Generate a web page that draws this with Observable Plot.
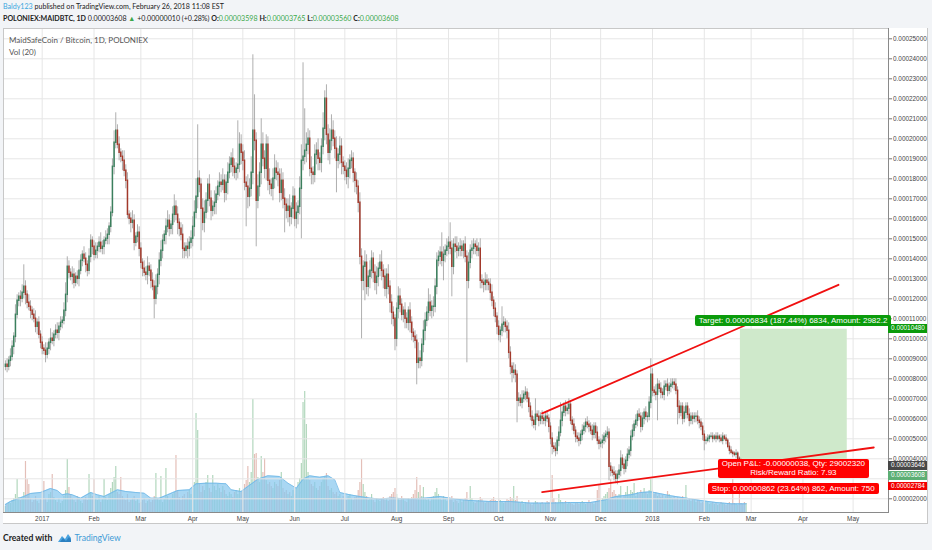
<!DOCTYPE html>
<html><head><meta charset="utf-8">
<script src="https://cdn.jsdelivr.net/npm/d3@7"></script>
<script src="https://cdn.jsdelivr.net/npm/@observablehq/plot@0.6"></script>
<style>
body{margin:0;width:932px;height:550px;background:#f2f4f7;position:relative;overflow:hidden;font-family:Lato,"Liberation Sans",sans-serif;}
.hdr{position:absolute;left:3px;white-space:nowrap;font-size:7.1px;color:#222;}
#h1{top:2px;} #h2{top:14px;}
#h1 .user{color:#3aa6de;}
#h2 b{font-weight:700;} #h2 .g{color:#3aa84a;}
#panel{position:absolute;left:3px;top:28px;width:925px;height:496px;background:#fff;overflow:hidden;}
#panel svg{position:absolute;left:0;}
#outer{position:absolute;left:3px;top:28px;width:924px;height:495px;border-right:1px solid #c8c8c8;border-bottom:1px solid #c8c8c8;pointer-events:none;}
.ttl{position:absolute;left:6px;font-size:8px;color:#555;white-space:nowrap;}
.lbl{position:absolute;color:#fff;font-family:"Liberation Sans",Arial,sans-serif;font-size:8px;white-space:nowrap;text-align:center;border-radius:2px;padding:0 4px;line-height:11px;}
.tag{position:absolute;left:885px;width:40px;height:8.6px;line-height:8.6px;color:#fff;font-family:"Liberation Sans",Arial,sans-serif;font-size:6.4px;text-align:center;}
#foot{position:absolute;left:3px;top:533px;font-size:8.6px;white-space:nowrap;color:#222;}
#foot b{font-weight:700;} #foot .tv{color:#3d9ad6;}
</style></head><body>
<div class="hdr" id="h1"><span class="user">Baldy123</span> published on TradingView.com, February 26, 2018 11:08 EST</div>
<div class="hdr" id="h2"><b>POLONIEX:MAIDBTC, 1D</b> 0.00003608 <span class="g">▲</span> +0.00000010 (+0.28%) <b>O:</b><span class="g">0.00003598</span> <b>H:</b><span class="g">0.00003765</span> <b>L:</b><span class="g">0.00003560</span> <b>C:</b><span class="g">0.00003608</span></div>
<div id="panel"></div>
<div id="outer"></div>
<div id="foot"><b>Created with</b> <svg width="13" height="9" viewBox="0 0 13 9" style="vertical-align:-1px;margin:0 2px 0 3px"><path d="M0 9 L4 3 L7 6 L10 1 L13 5 L13 9 Z" fill="#4aa3df"/><path d="M2 9 L5 5 L8 8 L11 4 L13 7 L13 9Z" fill="#2b7fc0"/></svg> <span class="tv">TradingView</span></div>
<script>
// Prices in micro-BTC (1e-6 BTC); first candle 2016-12-10, one per day to 2018-02-26
const firstDate = "2016-12-10";
const firstOpen = 86;
const close = [
 87,86,89,91,96,101,112,119,121,120,123,126,122,118,116,114,112,110,106,108,102,98,
 95,94,92,95,98,100,99,102,104,103,106,108,109,114,122,136,133,131,132,128,131,130,134,139,142,140,137,134,141,149,146,
 142,144,146,148,145,146,149,150,152,156,163,186,198,204,197,193,191,189,184,179,162,160,158,159,148,151,153,145,
 138,135,133,132,136,134,129,126,120,126,132,139,144,149,152,156,159,155,157,162,166,162,158,155,152,145,144,146,145,148,150,
 156,163,171,180,177,165,158,163,169,177,170,164,166,168,172,176,178,177,179,173,178,183,187,190,186,183,185,187,197,193,
 189,178,176,171,175,183,204,199,169,176,183,197,190,185,197,179,177,175,180,185,183,182,173,179,170,167,164,166,161,165,171,
 160,163,166,175,189,191,194,197,200,185,183,182,192,194,190,188,196,205,220,202,193,199,204,200,195,189,192,196,188,186,
 184,181,185,189,190,183,179,176,168,141,129,136,138,126,131,134,140,133,128,131,135,138,134,131,125,132,126,118,113,110,100,
 115,121,117,112,114,110,108,114,108,103,101,99,88,90,89,97,104,109,113,118,114,116,116,126,139,141,143,139,142,144,146,
 148,145,136,147,146,144,145,146,144,147,141,129,138,144,145,147,146,144,145,129,128,127,129,128,127,123,119,115,111,106,
 102,104,107,108,106,104,93,86,83,84,82,69,70,68,70,72,73,70,66,61,59,57,62,61,59,61,60,59,61,60,56,
 50,46,45,44,49,53,59,63,66,64,65,67,59,57,54,51,50,49,52,54,56,58,57,56,54,52,56,53,49,47.5,
 48,49,51,52,53,36,34,33,32,30,32,34,40,37,35,39,42,44,51,54,57,59,62,61,56,60,63,61,61,68,82,
 74,73,72,77,75,73,72,76,77,74,76,77,78,77,74,66,63,66,60,63,66,62,59,61,60,61,61,59,58,56,52,
 49,49,50,51,51,50,51,50,51,50,49,51,50,49,46,44,43,42.5,42,42.5,40,39,37,36.5,35.98,36.08
];
const upperWick = [
 2,3,2,4,3,2,5,3,2,3,4,11,3,2,4,3,2,3,4,2,3,2,
 3,2,4,3,2,5,3,2,3,4,2,3,2,4,6,5,3,2,4,3,2,3,5,3,2,4,3,2,4,3,2,
 3,4,2,3,5,3,2,4,3,2,3,4,6,9,3,4,2,3,5,3,4,2,3,5,3,2,4,3,
 3,2,4,3,5,2,3,4,3,6,3,4,5,3,2,4,5,3,2,4,6,3,4,2,3,5,3,2,4,3,4,
 5,6,9,27,4,3,5,6,4,3,5,4,3,6,4,3,5,4,6,3,4,5,4,3,5,4,3,22,6,5,
 4,5,3,6,5,8,38,18,4,6,5,13,6,4,5,4,6,3,5,7,4,5,3,6,4,5,3,4,6,3,5,
 4,5,3,6,8,47,21,6,5,4,6,3,5,4,6,3,4,8,4,7,5,6,8,5,4,6,3,5,4,3,
 3,4,5,3,4,3,2,4,3,5,4,3,6,4,3,5,4,3,4,5,3,4,6,3,4,3,5,3,4,3,2,
 3,5,4,3,2,4,3,2,4,3,2,3,3,8,4,3,5,4,3,7,4,3,5,4,4,3,3,10,4,3,4,
 3,10,4,3,4,5,3,4,3,2,4,3,5,3,4,3,2,4,3,5,3,2,4,3,2,3,4,2,3,2,
 3,2,9,3,2,3,4,3,2,4,3,2,3,2,4,2,3,2,3,2,3,2,8,2,3,2,3,2,2,3,2,
 2,3,2,3,2,3,9,3,2,3,3,3,2,2,3,2,2,3,2,3,2,2,3,2,2,3,2,2,3,2,
 2,3,2,2,3,2,2,2,3,2,2,3,4,2,3,2,3,2,3,3,2,3,2,3,2,3,2,3,2,3,8,
 3,2,4,3,2,3,2,3,2,3,2,3,2,2,3,2,3,2,2,3,2,2,3,2,2,2,2,3,2,2,2,
 2,2,2,1,2,2,1,2,2,1,2,2,1,2,1,2,2,1,1,2,1,1,1,1,1,1.57
];
const lowerWick = [
 2,3,2,3,2,4,3,2,3,4,2,3,5,3,2,4,3,2,3,4,2,3,
 3,2,4,2,3,4,2,3,2,3,4,2,3,2,3,4,3,2,4,3,2,3,4,2,3,2,4,3,2,3,4,
 3,2,4,3,2,3,4,2,3,5,3,2,4,3,2,4,3,5,3,4,2,3,5,3,4,2,3,4,
 3,4,2,3,5,3,4,2,10,3,4,5,3,4,2,5,3,4,3,5,4,3,6,4,3,5,4,3,5,4,3,
 4,5,3,6,4,21,4,5,3,6,4,5,3,4,6,3,5,4,3,5,4,6,3,4,5,3,4,5,4,6,
 5,4,20,6,5,4,6,5,23,4,5,6,4,5,6,5,5,4,6,5,4,6,5,4,5,14,4,6,5,4,5,
 4,5,6,4,25,5,4,6,5,4,6,5,4,5,6,4,5,4,6,5,4,6,5,4,5,16,4,5,6,4,
 5,4,6,5,4,5,6,4,5,4,29,5,17,4,5,6,4,5,4,6,5,4,5,6,4,5,4,5,6,4,6,
 4,5,4,3,4,5,3,4,5,4,3,4,11,3,4,3,4,5,3,4,3,4,5,3,4,3,4,3,10,4,3,
 4,3,15,4,3,4,3,4,3,4,3,41,4,3,4,3,4,3,3,4,3,4,3,4,3,4,3,4,3,4,
 3,4,3,4,3,4,3,4,5,3,4,11,3,2,3,2,3,2,3,2,3,2,3,2,3,2,3,2,3,2,3,
 3,4,2,3,2,3,2,3,2,3,2,3,2,3,2,3,2,3,2,3,2,3,2,3,2,3,2,3,2,3,
 2,3,2,3,2,7,3,2,3,2.5,3,2,3,2,3,2,3,2,3,2,3,2,3,2,3,2,3,2,3,2,3,
 3,2,3,13,2,3,2,3,2,3,2,3,2,3,2,9,3,2,3,2,3,2,3,2,3,2,3,2,3,2,3,
 5,2,1,2,1,2,1,2,1,2,1,2,1,2,1,2,1,2,1,2,1,1,1,1,0.5,0.38
];
// daily volume (arbitrary units)
const volume = [
 6,8,10,9,12,14,18,33,15,12,14,20,51,33,28,14,10,12,16,11,9,13,
 12,31,14,10,18,20,38,15,12,10,14,9,11,16,22,53,25,18,14,12,10,16,14,11,9,13,15,12,38,20,16,
 33,14,12,16,10,13,33,15,12,18,24,30,35,46,20,18,35,16,14,12,18,10,12,14,16,11,13,9,
 10,12,14,9,11,13,10,12,16,39,14,12,36,10,13,44,16,12,14,18,20,57,22,15,12,16,18,14,20,22,18,
 24,30,99,82,28,20,26,22,30,37,24,20,37,26,22,28,24,20,26,22,18,16,20,18,15,20,22,18,24,20,
 22,28,32,46,30,40,113,58,59,35,30,56,40,54,32,28,30,26,24,30,28,26,32,40,24,20,22,18,20,16,22,
 18,24,30,34,49,110,121,88,40,32,28,26,30,24,22,26,30,34,36,39,26,22,24,20,18,20,16,18,14,16,
 14,12,16,18,14,12,15,16,22,30,53,28,20,16,12,14,18,12,10,14,12,11,13,15,12,14,11,16,18,20,24,
 18,14,12,16,13,11,10,14,12,15,18,22,35,20,27,16,25,14,12,13,11,15,16,20,24,18,14,12,16,13,11,
 12,14,16,10,12,11,9,13,10,12,14,20,12,26,14,10,9,11,12,15,13,10,9,11,10,12,13,15,12,11,
 14,12,10,9,11,13,12,15,14,26,12,16,10,9,11,8,10,9,12,8,7,9,11,10,8,9,10,8,9,11,10,
 12,37,14,10,9,18,12,10,9,11,8,10,9,8,7,9,10,8,9,11,10,8,9,12,10,9,8,11,22,28,
 12,14,16,18,20,24,33,20,22,18,16,18,26,14,16,20,26,18,22,20,29,16,20,18,22,19,24,20,18,22,33,
 22,18,20,16,18,15,17,14,16,21,18,15,14,16,13,15,12,14,16,13,27,12,14,11,13,12,10,12,11,9,10,
 9,11,10,8,9,10,8,9,7,8,10,9,8,7,9,10,8,33,9,8,7,18,9,8,10,9
];
// Vol (20) moving average: day index from firstDate, value
const maDay = [0,3,11,15,21,27,31,34,37,40,45,51,55,59,63,67,72,78,83,87,92,97,103,110,114,120,126,132,135,141,145,151,157,164,169,174,178,182,188,193,197,200,206,212,218,224,231,242,251,260,269,278,290,302,314,326,338,350,359,365,374,380,386,392,398,407,416,425,434,443];
const maVal = [8,11,16,19,20,24,22,17.7,18.7,17.7,14.3,20,17.7,16,19.3,22.7,21,20,19.3,14.3,14.3,17.7,22,22.7,28.7,29.3,29.3,28.7,22.7,21,26,33.3,36.7,36,29.3,24.3,33.3,36.7,35.3,36.7,32.7,20,17.7,16,14.4,13.4,14.4,13.4,14.4,16,13.4,12,11,11,9.4,9.4,10,10,12.7,16,17.7,20,20.7,18.7,16.7,14.4,12,10,8.7,8.7];

const trendLines = [
 {line:"upper", date:"2017-10-27", price:62.7},
 {line:"upper", date:"2018-04-22T06:00Z", price:127},
 {line:"lower", date:"2017-10-27", price:23.3},
 {line:"lower", date:"2018-05-13T09:00Z", price:45.65}
];
const position = {from:"2018-02-22T14:00Z", to:"2018-04-27T12:00Z", entry:36.46, target:104.80, stop:27.84, last:36.08};
const xTicks = ["2017-01-01","2017-02-01","2017-03-01","2017-04-01","2017-05-01","2017-06-01","2017-07-01","2017-08-01","2017-09-01","2017-10-01","2017-11-01","2017-12-01","2018-01-01","2018-02-01","2018-03-01","2018-04-01","2018-05-01"];
const yTicks = [20,30,40,50,60,70,80,90,100,110,120,130,140,150,160,170,180,190,200,210,220,230,240,250];
// 0.00003000 sits under the price tags in the reference, so its label is not shown
const yLabelTicks = yTicks.filter(v => v !== 30);

if (close.length !== 444 || upperWick.length !== 444 || lowerWick.length !== 444 || volume.length !== 444 || maDay.length !== maVal.length)
  throw new Error("length mismatch " + [close.length, upperWick.length, lowerWick.length, volume.length, maDay.length, maVal.length]);

const DAY = 864e5;
const start = new Date(firstDate + "T00:00Z").getTime();
const candles = close.map((c, i) => {
  const o = i === 0 ? firstOpen : close[i - 1];
  return {date: new Date(start + i * DAY), o, c,
    h: Math.max(o, c) + upperWick[i], l: Math.min(o, c) - lowerWick[i],
    v: volume[i], up: c >= o};
});
const ma = maDay.map((d, i) => ({date: new Date(start + d * DAY), v: maVal[i]}));
const tl = trendLines.map(d => ({...d, date: new Date(d.date)}));
const zone = [{from: new Date(position.from), to: new Date(position.to), entry: position.entry, target: position.target}];
const xt = xTicks.map(d => new Date(d + "T00:00Z"));

const t0 = Date.UTC(2017, 0, 1);
const xDomain = [new Date(t0 - 23.146 * DAY), new Date(t0 + 506.16 * DAY)];
const UP = "#3b7f5d", DOWN = "#a2392b";
const font = "'Liberation Sans', Arial, sans-serif";

const vol = Plot.plot({
  width: 925, height: 130, marginLeft: 0, marginRight: 40, marginTop: 0, marginBottom: 0,
  x: {type: "utc", domain: xDomain, axis: null},
  y: {domain: [0, 130], axis: null},
  style: {background: "transparent"},
  marks: [
    Plot.ruleX(candles, {x: "date", y1: 0, y2: "v", stroke: d => d.up ? "#b2d7bd" : "#e4bfb8", strokeWidth: 1.2}),
    Plot.areaY(ma, {x: "date", y: "v", fill: "#88c7ee", fillOpacity: 0.72}),
    Plot.lineY(ma, {x: "date", y: "v", stroke: "#6cb6e6", strokeWidth: 0.8})
  ]
});

const fmt = d => (d / 1e6).toFixed(8);
const monthFmt = d => d.getUTCMonth() === 0 ? String(d.getUTCFullYear()) : d3.utcFormat("%b")(d);

const price = Plot.plot({
  width: 925, height: 496, marginLeft: 0, marginRight: 40, marginTop: 0, marginBottom: 12,
  x: {type: "utc", domain: xDomain},
  y: {domain: [13.15, 255.15]},
  style: {background: "transparent", fontFamily: font, fontSize: "6.4px", color: "#444"},
  marks: [
    Plot.gridY(yTicks, {stroke: "#e6e6e6", strokeOpacity: 1}),
    Plot.gridX(xt, {stroke: "#e6e6e6", strokeOpacity: 1}),
    Plot.rect(zone, {x1: "from", x2: "to", y1: "entry", y2: "target", fill: "#cfe9cb"}),
    Plot.ruleX(candles, {x: "date", y1: "l", y2: "h", stroke: "#a6a6a6", strokeWidth: 0.9}),
    Plot.ruleX(candles, {x: "date", y1: "o", y2: "c", stroke: d => d.up ? UP : DOWN, strokeWidth: 1.5, strokeLinecap: "square"}),
    Plot.line(tl, {x: "date", y: "price", z: "line", stroke: "#f01010", strokeWidth: 1.8}),
    Plot.axisY(yLabelTicks, {anchor: "right", tickFormat: fmt, tickSize: 3, tickPadding: 1.5, label: null, stroke: "#777"}),
    Plot.axisX(xt, {anchor: "bottom", tickFormat: monthFmt, tickSize: 0, tickPadding: 3.5, label: null}),
    Plot.frame({stroke: "#c8c8c8"}),
    Plot.frame({anchor: "right", stroke: "#8a8a8a"}),
    Plot.frame({anchor: "bottom", stroke: "#8a8a8a"})
  ]
});

const panel = document.getElementById("panel");
vol.style.top = (484 - 130) + "px";
price.style.top = "0px";
panel.appendChild(vol);
panel.appendChild(price);

function addTitle(text, top) {
  const d = document.createElement("div");
  d.className = "ttl"; d.textContent = text; d.style.top = top + "px";
  panel.appendChild(d);
}
addTitle("MaidSafeCoin / Bitcoin, 1D, POLONIEX", 7);
addTitle("Vol (20)", 19);

const xs = price.scale("x"), ys = price.scale("y");
const zx = (xs.apply(new Date(position.from)) + xs.apply(new Date(position.to))) / 2;

function addLabel(html, bg, top, lh) {
  const d = document.createElement("div");
  d.className = "lbl"; d.innerHTML = html; d.style.background = bg;
  if (lh) d.style.lineHeight = lh;
  panel.appendChild(d);
  d.style.left = (zx - d.offsetWidth / 2) + "px";
  d.style.top = top + "px";
  return d;
}
const tgt = addLabel("Target: 0.00006834 (187.44%) 6834, Amount: 2982.2", "#0b9b0b", 0);
tgt.style.top = (ys.apply(position.target) - 2.5 - tgt.offsetHeight) + "px";
addLabel("Open P&amp;L: -0.00000038, Qty: 29002320<br>Risk/Reward Ratio: 7.93", "#ff0000", ys.apply(position.entry) - 6.5, "9.6px");
addLabel("Stop: 0.00000862 (23.64%) 862, Amount: 750", "#ff0000", ys.apply(position.stop) + 0.8);

const tags = [
  {p: position.target, bg: "#0b9b0b"},
  {p: position.entry, bg: "#474747"},
  {p: position.last, bg: "#5cae74"},
  {p: position.stop, bg: "#f20000"}
].map(t => ({...t, y: ys.apply(t.p)})).sort((a, b) => a.y - b.y);
let prev = -Infinity;
for (const t of tags) {
  const y = Math.max(t.y, prev + 10.3);
  prev = y;
  const d = document.createElement("div");
  d.className = "tag"; d.style.background = t.bg; d.textContent = fmt(t.p);
  d.style.top = (y - 4.3) + "px";
  panel.appendChild(d);
}
</script>
</body></html>
